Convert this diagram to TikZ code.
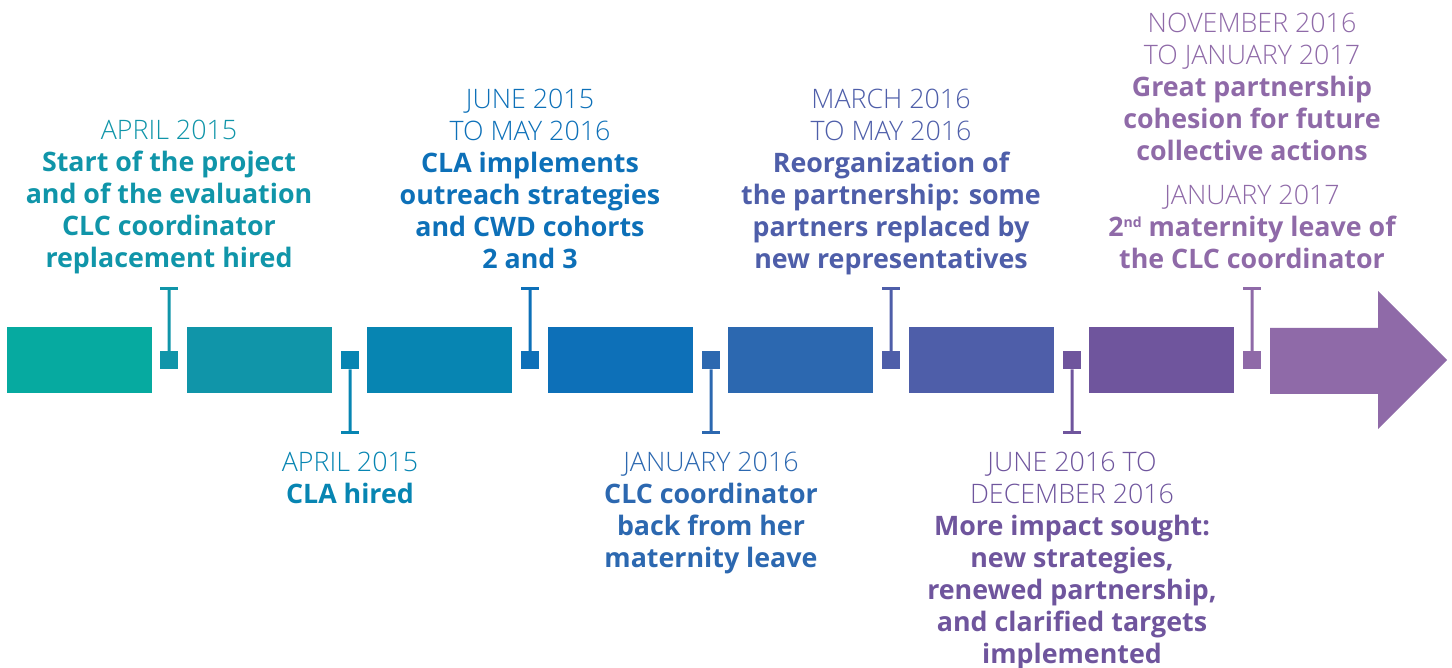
\documentclass[tikz,border=0pt]{standalone}
\usepackage{fontspec}
\setmainfont{Open Sans}
\newfontfamily\datefont{Open Sans Light}
\definecolor{cA}{HTML}{06AAA0}
\definecolor{cB}{HTML}{1095A9}
\definecolor{cC}{HTML}{0785B2}
\definecolor{cD}{HTML}{0D70B8}
\definecolor{cE}{HTML}{2C68B0}
\definecolor{cF}{HTML}{4E5EA9}
\definecolor{cG}{HTML}{6F559D}
\definecolor{cH}{HTML}{8F6AA8}
\newcommand\dateln[1]{{\datefont\strut #1}}
\newcommand\boldln[1]{{\bfseries\strut #1}}
\begin{document}
\begin{tikzpicture}[x=1pt,y=-1pt,
  block/.style={draw=none,inner sep=0pt,minimum width=145pt,minimum height=66pt,anchor=north west},
  knot/.style={draw=none,inner sep=0pt,minimum size=18pt,anchor=north west},
  capbar/.style={draw=none,inner sep=0pt,minimum width=18pt,minimum height=3pt},
  stem/.style={line width=3pt},
  lbl/.style={align=center,inner sep=0pt,anchor=north,font=\fontsize{26.8}{32}\selectfont}]
\useasboundingbox (0,0) rectangle (1452,668);

% timeline blocks
\node[block,fill=cA] (b1) at (7,327) {};
\node[block,fill=cB] (b2) at (187,327) {};
\node[block,fill=cC] (b3) at (367,327) {};
\node[block,fill=cD] (b4) at (548,327) {};
\node[block,fill=cE] (b5) at (728,327) {};
\node[block,fill=cF] (b6) at (909,327) {};
\node[block,fill=cG] (b7) at (1089,327) {};
\fill[cH] (1270,328) -- (1378,328) -- (1378,291) -- (1447,360) -- (1378,429) -- (1378,394) -- (1270,394) -- cycle;

% milestone markers
\node[knot,fill=cB] (k1) at (160,351) {};
\node[knot,fill=cC] (k2) at (341,351) {};
\node[knot,fill=cD] (k3) at (521,351) {};
\node[knot,fill=cE] (k4) at (702,351) {};
\node[knot,fill=cF] (k5) at (882,351) {};
\node[knot,fill=cG] (k6) at (1063,351) {};
\node[knot,fill=cH] (k7) at (1243,351) {};

\node[capbar,fill=cB] (t1) at (169,288.5) {};
\node[capbar,fill=cC] (t2) at (350,432.5) {};
\node[capbar,fill=cD] (t3) at (530,288.5) {};
\node[capbar,fill=cE] (t4) at (711,432.5) {};
\node[capbar,fill=cF] (t5) at (891,288.5) {};
\node[capbar,fill=cG] (t6) at (1072,432.5) {};
\node[capbar,fill=cH] (t7) at (1252,288.5) {};

\draw[stem,cB] (k1.north) -- (t1.south);
\draw[stem,cC] (k2.south) -- (t2.north);
\draw[stem,cD] (k3.north) -- (t3.south);
\draw[stem,cE] (k4.south) -- (t4.north);
\draw[stem,cF] (k5.north) -- (t5.south);
\draw[stem,cG] (k6.south) -- (t6.north);
\draw[stem,cH] (k7.north) -- (t7.south);

% labels above the line
\node[lbl,text=cB] (l1) at (169,116.6) {\dateln{APRIL 2015}\\\boldln{Start of the project}\\\boldln{and of the evaluation}\\\boldln{CLC coordinator}\\\boldln{replacement hired}};
\node[lbl,text=cD] (l3) at (530,85.6) {\dateln{JUNE 2015}\\\dateln{TO MAY 2016}\\\boldln{CLA implements}\\\boldln{outreach strategies}\\\boldln{and CWD cohorts}\\\boldln{2 and 3}};
\node[lbl,text=cF] (l5) at (891,85.6) {\dateln{MARCH 2016}\\\dateln{TO MAY 2016}\\\boldln{Reorganization of}\\\boldln{the partnership: some}\\\boldln{partners replaced by}\\\boldln{new representatives}};
\node[lbl,text=cH] (l7a) at (1252,9.6) {\dateln{NOVEMBER 2016}\\\dateln{TO JANUARY 2017}\\\boldln{Great partnership}\\\boldln{cohesion for future}\\\boldln{collective actions}};
\node[lbl,text=cH] (l7b) at (1252,181.6) {\dateln{JANUARY 2017}\\\boldln{2{\fontsize{14}{14}\selectfont\raisebox{9pt}{nd}} maternity leave of}\\\boldln{the CLC coordinator}};

% labels below the line
\node[lbl,text=cC] (l2) at (350,448.6) {\dateln{APRIL 2015}\\\boldln{CLA hired}};
\node[lbl,text=cE] (l4) at (711,448.6) {\dateln{JANUARY 2016}\\\boldln{CLC coordinator}\\\boldln{back from her}\\\boldln{maternity leave}};
\node[lbl,text=cG] (l6) at (1072,448.6) {\dateln{JUNE 2016 TO}\\\dateln{DECEMBER 2016}\\\boldln{More impact sought:}\\\boldln{new strategies,}\\\boldln{renewed partnership,}\\\boldln{and clarified targets}\\\boldln{implemented}};
\end{tikzpicture}
\end{document}
